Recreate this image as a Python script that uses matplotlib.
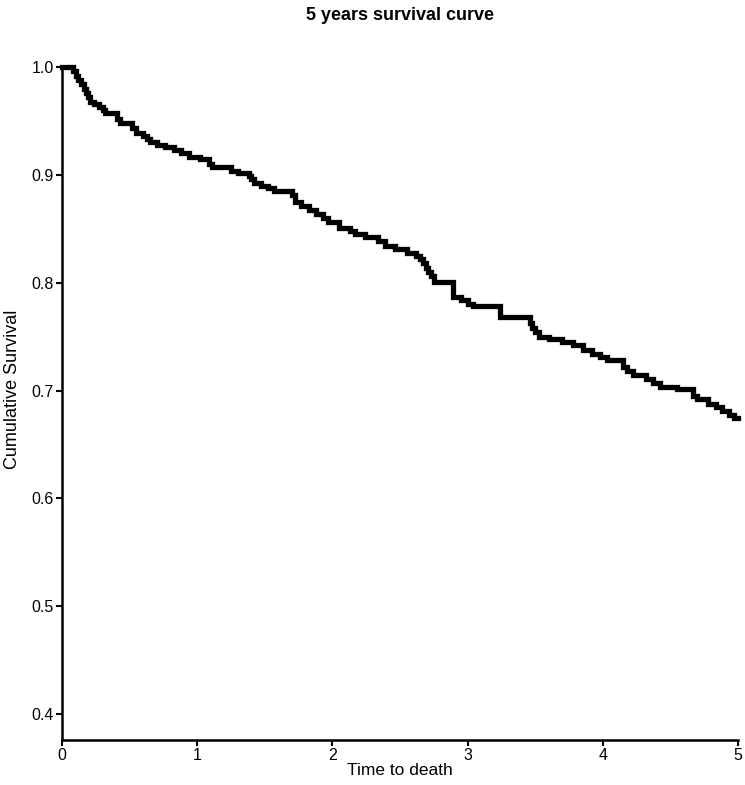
import matplotlib
matplotlib.use("Agg")
import matplotlib.pyplot as plt

plt.rcParams['font.family'] = ['Liberation Sans', 'DejaVu Sans']

# Step times (years) and cumulative survival after each step
times = [0.00, 0.08, 0.10, 0.12, 0.14, 0.16, 0.18, 0.19, 0.21, 0.24, 0.27, 0.30,
         0.32, 0.41, 0.43, 0.52, 0.55, 0.60, 0.63, 0.65, 0.70, 0.76, 0.83, 0.88,
         0.94, 1.02, 1.09, 1.11, 1.25, 1.30, 1.38, 1.40, 1.42, 1.47, 1.52, 1.57,
         1.70, 1.72, 1.77, 1.83, 1.88, 1.93, 1.97, 2.05, 2.13, 2.17, 2.24, 2.34,
         2.39, 2.46, 2.55, 2.62, 2.65, 2.67, 2.69, 2.71, 2.73, 2.75, 2.89, 2.95,
         3.00, 3.04, 3.24, 3.46, 3.48, 3.50, 3.53, 3.60, 3.70, 3.78, 3.85, 3.92,
         3.98, 4.03, 4.15, 4.18, 4.22, 4.32, 4.37, 4.42, 4.55, 4.67, 4.70, 4.78,
         4.84, 4.88, 4.93, 4.97, 5.00]
survival = [1.000, 0.996, 0.992, 0.988, 0.984, 0.980, 0.976, 0.972, 0.968, 0.966, 0.963, 0.960,
            0.957, 0.952, 0.948, 0.943, 0.939, 0.936, 0.933, 0.930, 0.928, 0.926, 0.923, 0.920,
            0.917, 0.915, 0.910, 0.907, 0.904, 0.902, 0.899, 0.896, 0.892, 0.890, 0.888, 0.885,
            0.881, 0.875, 0.871, 0.867, 0.864, 0.860, 0.856, 0.851, 0.848, 0.845, 0.842, 0.839,
            0.834, 0.831, 0.828, 0.825, 0.822, 0.818, 0.814, 0.810, 0.806, 0.801, 0.787, 0.784,
            0.780, 0.778, 0.768, 0.763, 0.758, 0.754, 0.750, 0.748, 0.745, 0.742, 0.738, 0.734,
            0.731, 0.728, 0.722, 0.718, 0.714, 0.711, 0.707, 0.703, 0.701, 0.695, 0.692, 0.688,
            0.685, 0.681, 0.677, 0.675, 0.675]

x_ticks = [0, 1, 2, 3, 4, 5]
y_ticks = [0.4, 0.5, 0.6, 0.7, 0.8, 0.9, 1.0]
y_tick_labels = ["0.4", "0.5", "0.6", "0.7", "0.8", "0.9", "1.0"]

fig = plt.figure(figsize=(7.45, 7.85), dpi=100)
ax = fig.add_axes([62/745, 1-740/785, (738-62)/745, (740-67)/785])

ax.plot(times, survival, drawstyle='steps-post', color='black', lw=3.8,
        solid_joinstyle='miter', clip_on=False, zorder=3)

ax.set_xlim(0, 5)
ax.set_ylim(0.376, 1.0)
ax.set_xticks(x_ticks)
ax.set_xticklabels([str(v) for v in x_ticks])
ax.set_yticks(y_ticks)
ax.set_yticklabels(y_tick_labels)

for s in ['top', 'right']:
    ax.spines[s].set_visible(False)
for s in ['left', 'bottom']:
    ax.spines[s].set_linewidth(1.8)
    ax.spines[s].set_color('black')

ax.tick_params(axis='both', which='major', labelsize=11.5, width=1.5, length=4,
               colors='black', pad=2)

ax.set_xlabel("Time to death", fontsize=12.5, labelpad=0)
fig.text(13/745, 1-389/785, "Cumulative Survival", rotation=90,
         ha='center', va='center', fontsize=13)

fig.text(400/745, 1-16/785, "5 years survival curve", ha='center', va='center',
         fontsize=13, fontweight='bold')

fig.savefig("out.png", dpi=100, facecolor='white')
